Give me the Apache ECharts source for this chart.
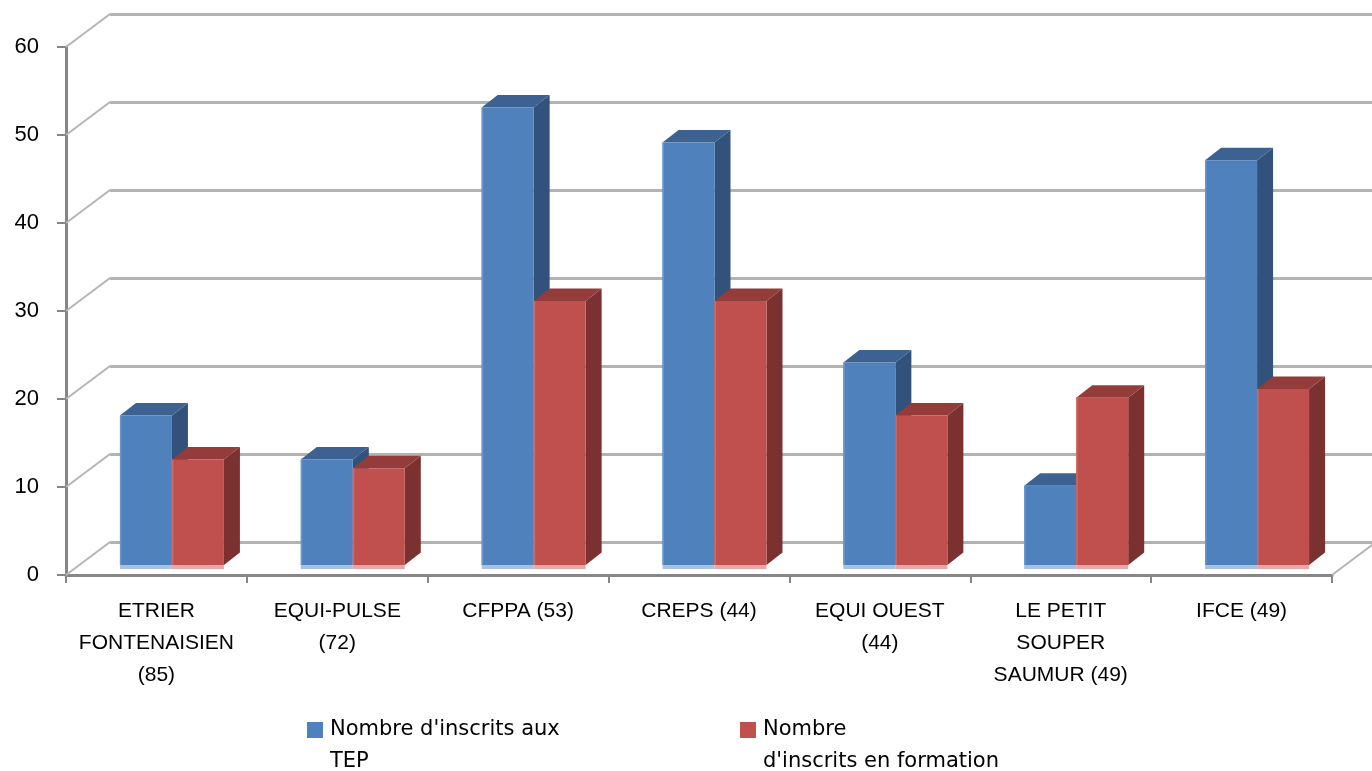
<!DOCTYPE html>
<html><head><meta charset="utf-8">
<script src="https://cdn.jsdelivr.net/npm/echarts@6/dist/echarts.min.js"></script>
<style>html,body{margin:0;padding:0;background:#fff}#c{width:1372px;height:771px}</style>
</head><body><div id="c"></div>
<script>
// ---- data ----
const categories = ["ETRIER\nFONTENAISIEN\n(85)", "EQUI-PULSE\n(72)", "CFPPA (53)", "CREPS (44)", "EQUI OUEST\n(44)", "LE PETIT\nSOUPER\nSAUMUR (49)", "IFCE (49)"];
const tepValues = [17, 12, 52, 48, 23, 9, 46];
const formationValues = [12, 11, 30, 30, 17, 19, 20];
const seriesNames = ["Nombre d'inscrits aux TEP", "Nombre d'inscrits en formation"];
const legendLabels = ["Nombre d'inscrits aux\nTEP", "Nombre\nd'inscrits en formation"];
const yTicks = [0, 10, 20, 30, 40, 50, 60];

// ---- styling / 3D geometry ----
const FONT = "'Liberation Sans', Arial, sans-serif";
const LEGEND_FONT = "'DejaVu Sans', sans-serif";
const WALL = [44, -33];          // offset of back wall from front plane
const DEPTH_SHIFT = [15.5, -10]; // offset of bar front faces from front plane
const BAR_DEPTH = [16, -12.5];   // bar thickness in depth
const BAR_FRAC = 0.2875;         // bar width as fraction of band
const COLORS = [
  {front: '#4f81bd', edge: '#6a96cc', top: '#3d6291', side: '#32527c', foot: '#a9c0e0'},
  {front: '#c0504d', edge: '#cc6a67', top: '#943c3a', side: '#7a3130', foot: '#e6a9a7'}
];

function barRenderer(sIdx) {
  const col = COLORS[sIdx];
  return function (params, api) {
    const i = api.value(0), v = api.value(1);
    const c = api.coord([i, v]);
    const c0 = api.coord([i, 0]);
    const band = api.size([1, 0])[0];
    const w = band * BAR_FRAC;
    const x0 = c[0] + DEPTH_SHIFT[0] - w + sIdx * w;
    const x1 = x0 + w;
    const yTop = c[1] + DEPTH_SHIFT[1];
    const yBot = c0[1] + DEPTH_SHIFT[1];
    const dx = BAR_DEPTH[0], dy = BAR_DEPTH[1];
    return {
      type: 'group',
      children: [
        {type: 'polygon', shape: {points: [[x1, yTop], [x1 + dx, yTop + dy], [x1 + dx, yBot + dy], [x1, yBot]]}, style: {fill: col.side}},
        {type: 'polygon', shape: {points: [[x0, yTop], [x0 + dx, yTop + dy], [x1 + dx, yTop + dy], [x1, yTop]]}, style: {fill: col.top}},
        {type: 'rect', shape: {x: x0, y: yTop, width: w, height: yBot - yTop}, style: {fill: col.front}},
        {type: 'rect', shape: {x: x0, y: yTop, width: 1.5, height: yBot - yTop}, style: {fill: col.edge}},
        {type: 'rect', shape: {x: x0, y: yBot, width: w, height: 4}, style: {fill: col.foot}}
      ]
    };
  };
}

function connectorRenderer(params, api) {
  const v = api.value(1);
  const p = api.coord([0, v]);
  const cs = params.coordSys;
  const children = [{
    type: 'line',
    shape: {x1: cs.x, y1: p[1], x2: cs.x + WALL[0], y2: p[1] + WALL[1]},
    style: {stroke: '#b5b5b5', lineWidth: 2}
  }];
  if (v === 0) {
    children.push({
      type: 'line',
      shape: {x1: cs.x + cs.width, y1: p[1], x2: cs.x + cs.width + WALL[0], y2: p[1] + WALL[1]},
      style: {stroke: '#b5b5b5', lineWidth: 2}
    });
  }
  return {type: 'group', children};
}

const iconPath = 'path://M0,0H16V16H0Z M0,47.99H0.01V48H0Z';

const chart = echarts.init(document.getElementById('c'), null, {renderer: 'canvas'});
chart.setOption({
  animation: false,
  backgroundColor: '#ffffff',
  textStyle: {fontFamily: FONT},
  grid: [
    {left: 66, right: 40, top: 47, bottom: 196},
    {left: 66 + WALL[0], right: 0, top: 47 + WALL[1], bottom: 196 - WALL[1]}
  ],
  xAxis: [
    {
      type: 'category', gridIndex: 0, data: categories,
      axisLine: {lineStyle: {color: '#868686', width: 3}},
      axisTick: {show: true, length: 8, lineStyle: {color: '#868686', width: 2}},
      axisLabel: {interval: 0, fontSize: 21, lineHeight: 32, margin: 20, color: '#000', fontFamily: FONT}
    },
    {type: 'value', gridIndex: 1, show: false, min: 0, max: 1}
  ],
  yAxis: [
    {
      type: 'value', gridIndex: 0, min: 0, max: 60, interval: 10,
      axisLine: {show: true, lineStyle: {color: '#868686', width: 3}},
      axisTick: {show: true, length: 9, lineStyle: {color: '#868686', width: 2}},
      axisLabel: {fontSize: 22, margin: 27, color: '#000', fontFamily: FONT},
      splitLine: {show: false}
    },
    {
      type: 'value', gridIndex: 1, min: 0, max: 60, interval: 10,
      axisLine: {show: false}, axisTick: {show: false}, axisLabel: {show: false},
      splitLine: {show: true, lineStyle: {color: '#b3b3b3', width: 3}}
    }
  ],
  legend: [
    {
      data: [seriesNames[0]], left: 307, top: 714, padding: 0,
      itemWidth: 16, itemHeight: 48, itemGap: 0, icon: iconPath,
      formatter: () => legendLabels[0],
      textStyle: {fontSize: 21, lineHeight: 32, color: '#000', fontFamily: LEGEND_FONT, padding: [0, 0, 0, 2]}
    },
    {
      data: [seriesNames[1]], left: 740, top: 714, padding: 0,
      itemWidth: 16, itemHeight: 48, itemGap: 0, icon: iconPath,
      formatter: () => legendLabels[1],
      textStyle: {fontSize: 21, lineHeight: 32, color: '#000', fontFamily: LEGEND_FONT, padding: [0, 0, 0, 2]}
    }
  ],
  series: [
    {
      type: 'custom', name: 'connectors', xAxisIndex: 0, yAxisIndex: 0,
      renderItem: connectorRenderer, silent: true,
      data: yTicks.map(v => [0, v]), z: 1
    },
    {
      type: 'custom', name: seriesNames[0], xAxisIndex: 0, yAxisIndex: 0,
      itemStyle: {color: COLORS[0].front},
      renderItem: barRenderer(0),
      data: tepValues.map((v, i) => [i, v]), z: 3
    },
    {
      type: 'custom', name: seriesNames[1], xAxisIndex: 0, yAxisIndex: 0,
      itemStyle: {color: COLORS[1].front},
      renderItem: barRenderer(1),
      data: formationValues.map((v, i) => [i, v]), z: 3
    }
  ]
});
</script>
</body></html>
